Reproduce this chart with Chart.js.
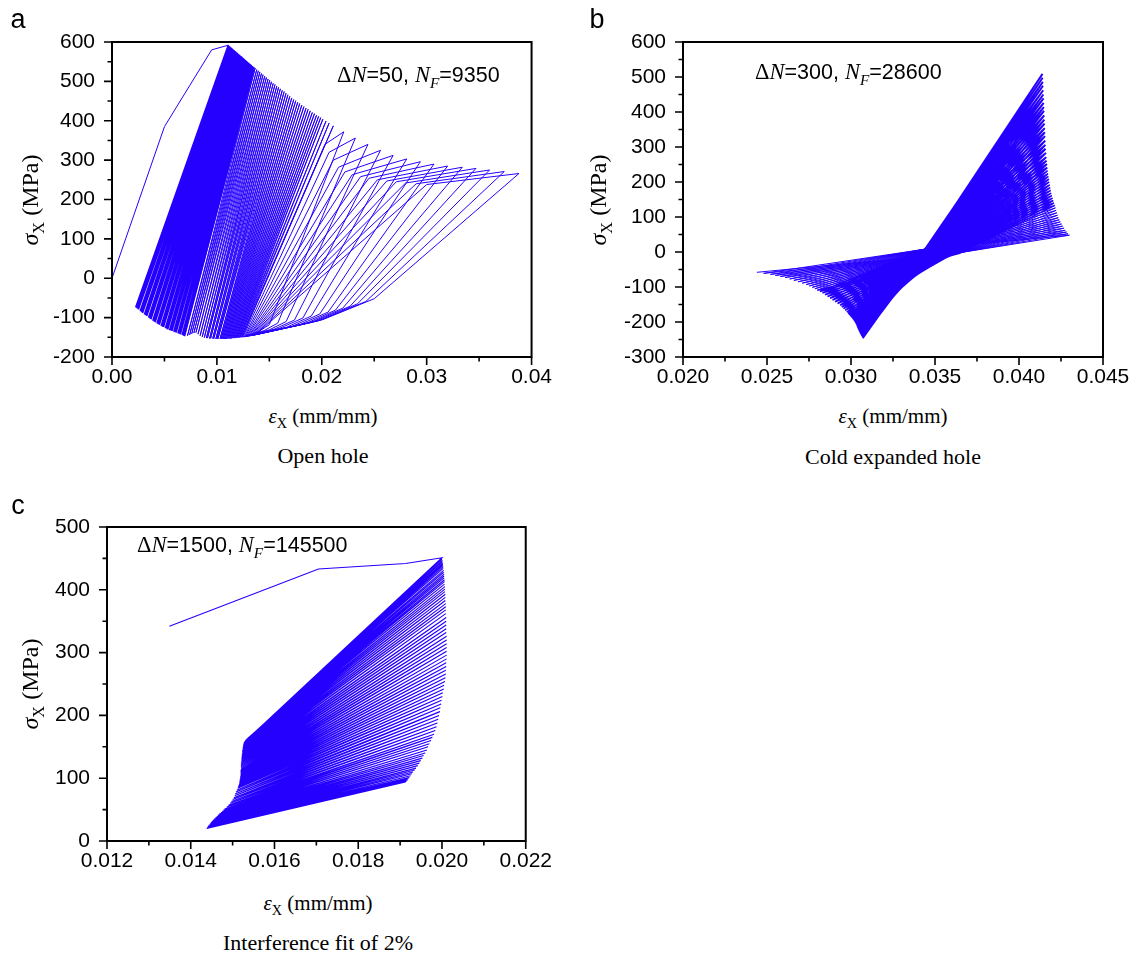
<!DOCTYPE html>
<html>
<head>
<meta charset="utf-8">
<script src="https://cdn.jsdelivr.net/npm/chart.js@4.4.1/dist/chart.umd.min.js"></script>
<style>
  body { margin: 0; background: #fff; width: 1140px; height: 954px; position: relative; overflow: hidden; }
  canvas { position: absolute; }
  .lbl { position: absolute; white-space: nowrap; color: #000; transform: translate(-50%, -50%); }
  .letter { font-family: "Liberation Sans", Arial, sans-serif; font-size: 27px; }
  .serif { font-family: "Liberation Serif", "Times New Roman", serif; font-size: 21px; }
  .cap { font-size: 22px; }
  .ytitle { transform: translate(-50%, -50%) rotate(-90deg); font-size: 24px; }
  .ann { position: absolute; white-space: nowrap; transform: translateY(-50%); font-family: "Liberation Sans", Arial, sans-serif; font-size: 21.5px; color: #000; }
  .ann .s { font-family: "Liberation Serif", "Times New Roman", serif; font-size: 22.5px; }
  sub { font-size: 68%; vertical-align: baseline; position: relative; top: 0.38em; }
</style>
</head>
<body>

<canvas id="chartA" width="560" height="400" style="left:0;top:0"></canvas>
<canvas id="chartB" width="580" height="400" style="left:560px;top:0"></canvas>
<canvas id="chartC" width="560" height="400" style="left:0;top:480px"></canvas>

<!-- panel a labels -->
<div class="lbl letter" style="left:18px;top:19px">a</div>
<div class="lbl serif ytitle" style="left:30px;top:200px"><i>σ</i><sub>X</sub> (MPa)</div>
<div class="lbl serif" style="left:323px;top:416px"><i>ε</i><sub>X</sub> (mm/mm)</div>
<div class="lbl serif cap" style="left:323px;top:456px">Open hole</div>
<div class="ann" style="left:337px;top:75px"><span class="s">Δ<i>N</i></span>=50, <span class="s"><i>N</i><sub><i>F</i></sub></span>=9350</div>

<!-- panel b labels -->
<div class="lbl letter" style="left:597px;top:19px">b</div>
<div class="lbl serif ytitle" style="left:598px;top:200px"><i>σ</i><sub>X</sub> (MPa)</div>
<div class="lbl serif" style="left:893px;top:416px"><i>ε</i><sub>X</sub> (mm/mm)</div>
<div class="lbl serif cap" style="left:893px;top:457px">Cold expanded hole</div>
<div class="ann" style="left:755px;top:72px"><span class="s">Δ<i>N</i></span>=300, <span class="s"><i>N</i><sub><i>F</i></sub></span>=28600</div>

<!-- panel c labels -->
<div class="lbl letter" style="left:18px;top:505px">c</div>
<div class="lbl serif ytitle" style="left:30px;top:684px"><i>σ</i><sub>X</sub> (MPa)</div>
<div class="lbl serif" style="left:318px;top:903px"><i>ε</i><sub>X</sub> (mm/mm)</div>
<div class="lbl serif cap" style="left:318px;top:943px">Interference fit of 2%</div>
<div class="ann" style="left:137px;top:545px"><span class="s">Δ<i>N</i></span>=1500, <span class="s"><i>N</i><sub><i>F</i></sub></span>=145500</div>

<script>
const BLUE = "rgb(38, 0, 255)";

// ---------- panel a : open hole (strain mm/mm, stress MPa) ----------
const aFirstStrain = [0, 0.005, 0.0095];
const aFirstStress = [0, 385, 580];

const aPeakStrain = [
  // early cycles, packed near the first peak
  0.0111, 0.01117, 0.01124, 0.01131, 0.01138, 0.01145, 0.01152, 0.01159, 0.01166, 0.01173,
  0.0118, 0.01187, 0.01194, 0.01201, 0.01208, 0.01215, 0.01222, 0.01229, 0.01236, 0.01243,
  0.0125, 0.01257, 0.01264, 0.01271, 0.01278, 0.01285, 0.01292, 0.01299, 0.01306, 0.01313,
  0.0132, 0.01327, 0.01334, 0.01341, 0.01348, 0.01355,
  // middle cycles
  0.01365, 0.0138, 0.01395, 0.0141, 0.01425, 0.0144, 0.01456, 0.01472, 0.01488, 0.01504,
  0.0152, 0.01537, 0.01554, 0.01571, 0.01588, 0.01605, 0.01623, 0.01641, 0.01659, 0.01677,
  0.01695, 0.01714, 0.01733, 0.01752, 0.01771, 0.0179, 0.0181, 0.0183, 0.0185, 0.0187,
  0.0189, 0.0191, 0.0193, 0.0195, 0.0197, 0.0199, 0.0201, 0.0204, 0.0207, 0.0211,
  // last, wide loops
  0.0221, 0.0232, 0.0244, 0.0256, 0.0268, 0.0281, 0.0294, 0.0307, 0.0320, 0.0334,
  0.0347, 0.0360, 0.0374, 0.0388
];
const aPeakStress = [
  592, 590, 589, 587, 586, 584, 582, 581, 579, 578,
  576, 574, 573, 571, 569, 568, 566, 565, 563, 561,
  560, 558, 556, 555, 553, 552, 550, 548, 547, 545,
  544, 542, 540, 539, 537, 536,
  534, 530, 527, 524, 520, 517, 513, 510, 506, 503,
  499, 495, 492, 488, 485, 481, 477, 474, 470, 466,
  462, 458, 454, 451, 447, 444, 440, 436, 432, 429,
  425, 421, 418, 414, 411, 408, 404, 399, 394, 387,
  372, 356, 340, 325, 312, 303, 296, 290, 285, 282,
  279, 275, 271, 266
];
const aValleyStrain = [
  0.00227, 0.0024, 0.0025, 0.0027, 0.0028, 0.0029, 0.0031, 0.0032, 0.0033, 0.0035,
  0.0036, 0.0037, 0.0039, 0.0040, 0.0041, 0.0043, 0.0044, 0.0045, 0.0047, 0.0048,
  0.0049, 0.0051, 0.0052, 0.0053, 0.0055, 0.0056, 0.0057, 0.0059, 0.0060, 0.0061,
  0.0063, 0.0064, 0.0065, 0.0067, 0.0068, 0.0069,
  0.0072, 0.0074, 0.0076, 0.0078, 0.0080, 0.0082, 0.0084, 0.0086, 0.0088, 0.0090,
  0.0091, 0.0093, 0.0094, 0.0096, 0.0097, 0.0099, 0.0100, 0.0101, 0.0103, 0.0104,
  0.0105, 0.0106, 0.0107, 0.0108, 0.0109, 0.0110, 0.0111, 0.0112, 0.0113, 0.0114,
  0.0115, 0.0116, 0.0117, 0.0118, 0.0119, 0.0120, 0.0121, 0.0122, 0.0123, 0.0124,
  0.0125, 0.0126, 0.0127, 0.0128, 0.0129, 0.0130, 0.0131, 0.0132, 0.0133, 0.0134,
  0.0135, 0.0136, 0.0137, 0.0138
];
const aValleyStress = [
  -74, -77, -79, -83, -86, -88, -92, -94, -96, -100,
  -102, -104, -108, -110, -112, -115, -117, -118, -121, -123,
  -124, -127, -128, -130, -132, -133, -134, -136, -137, -138,
  -140, -141, -142, -144, -146, -147,
  -146, -144, -141, -139, -138, -142, -146, -149, -151, -152,
  -152, -153, -153, -153, -154, -154, -154, -154, -154, -154,
  -154, -154, -154, -154, -154, -153, -153, -153, -153, -153,
  -152, -152, -152, -152, -151, -151, -151, -150, -150, -150,
  -149, -149, -148, -148, -147, -147, -146, -146, -145, -145,
  -144, -144, -143, -143
];
// knees of the last 14 (wide) loops
const aLoadKneeStrain = [0.0203, 0.0207, 0.0211, 0.0216, 0.0222, 0.0229, 0.0237, 0.0245, 0.0253, 0.0262, 0.0271, 0.0280, 0.0290, 0.0300];
const aLoadKneeStress = [340, 320, 300, 282, 270, 263, 258, 254, 250, 247, 245, 242, 240, 238];
const aUnloadKneeStrain = [0.0150, 0.0158, 0.0166, 0.0174, 0.0182, 0.0190, 0.0198, 0.0206, 0.0213, 0.0220, 0.0227, 0.0234, 0.0242, 0.0250];
const aUnloadKneeStress = [-118, -114, -110, -106, -101, -96, -91, -86, -81, -76, -71, -65, -59, -52];
const aBendStrain = [0.0140, 0.0145, 0.0150, 0.0155, 0.0160, 0.0166, 0.0172, 0.0178, 0.0184, 0.0189, 0.0193, 0.0197, 0.0199, 0.0201];
const aBendStress = [-135, -133, -131, -129, -127, -125, -122, -119, -116, -113, -110, -108, -106, -105];
const aDenseCycles = 36; // cycles drawn in the solid left band

// ---------- panel b : cold expanded hole ----------
const bPeakStrain = [
  0.04140, 0.04141, 0.04142, 0.04143, 0.04144, 0.04145, 0.04146, 0.04147, 0.04148, 0.04149,
  0.04150, 0.04151, 0.04152, 0.04153, 0.04154, 0.04155, 0.04156, 0.04157, 0.04158, 0.04160,
  0.04162, 0.04164, 0.04166, 0.04168,
  0.04170, 0.04173, 0.04175, 0.04178, 0.04180, 0.04183, 0.04186, 0.04189, 0.04192, 0.04196,
  0.04200, 0.04204, 0.04208, 0.04213,
  0.04217, 0.04221, 0.04225, 0.04229, 0.04234, 0.04240, 0.04246, 0.04253, 0.04260, 0.04267,
  0.04275, 0.04283, 0.04292, 0.04300
];
const bPeakStress = [
  509, 498, 486, 475, 462, 450, 439, 426, 414, 403,
  390, 378, 367, 354, 342, 331, 318, 306, 295, 283,
  271, 261, 251, 241,
  232, 224, 216, 208, 200, 192, 184, 176, 168, 161,
  154, 147, 140, 133,
  126, 119, 112, 105, 98, 92, 86, 80, 74, 68,
  62, 57, 52, 48
];
const bValleyStrain = [
  0.03070, 0.03069, 0.03068, 0.03066, 0.03063, 0.03061, 0.03059, 0.03056, 0.03053, 0.03050,
  0.03047, 0.03044, 0.03041, 0.03038, 0.03035, 0.03032, 0.03027, 0.03022, 0.03017, 0.03011,
  0.03004, 0.02997, 0.02990, 0.02983,
  0.02975, 0.02965, 0.02955, 0.02945, 0.02935, 0.02920, 0.02905, 0.02890, 0.02875, 0.02860,
  0.02845, 0.02830, 0.02815, 0.02800,
  0.02785, 0.02770, 0.02752, 0.02733, 0.02710, 0.02685, 0.02660, 0.02635, 0.02608, 0.02580,
  0.02550, 0.02520, 0.02480, 0.02440
];
const bValleyStress = [
  -246, -245, -244, -242, -240, -238, -236, -234, -231, -228,
  -225, -222, -219, -216, -212, -208, -204, -200, -196, -192,
  -188, -184, -180, -176,
  -172, -167, -162, -157, -152, -147, -142, -137, -132, -127,
  -122, -117, -113, -109,
  -105, -101, -97, -93, -89, -85, -81, -77, -73, -70,
  -67, -64, -61, -58
];
// loading branches all pass the waist near one point
const bLoadCross = [0.0344, 8];
// unloading branches cross the waist further right as the cycles go on
const bUnloadCrossStrain = [
  0.03445, 0.03452, 0.03459, 0.03466, 0.03473, 0.03480, 0.03487, 0.03494, 0.03501, 0.03508,
  0.03516, 0.03524, 0.03532, 0.03540, 0.03548, 0.03556, 0.03564, 0.03572, 0.03580, 0.03588,
  0.03596, 0.03604, 0.03612, 0.03618,
  0.03621, 0.03623, 0.03625, 0.03627, 0.03629, 0.03631, 0.03633, 0.03635, 0.03637, 0.03639,
  0.03641, 0.03643, 0.03645, 0.03647,
  0.03628, 0.03628, 0.03629, 0.03629, 0.03630, 0.03630, 0.03631, 0.03631, 0.03632, 0.03632,
  0.03633, 0.03633, 0.03634, 0.03634
];
const bUnloadCrossStress = [
  7, 7, 6, 6, 6, 5, 5, 5, 4, 4,
  4, 3, 3, 3, 2, 2, 2, 1, 1, 1,
  0, 0, -1, -1,
  -1, -1, -2, -2, -2, -2, -3, -3, -3, -3,
  -4, -4, -4, -4,
  -2, -2, -2, -2, -3, -3, -3, -3, -3, -3,
  -3, -3, -3, -3
];
const bBandCycles = 24;  // early cycles forming the steep solid band
const bMidCycles = 38;   // next cycles, the dark tongue at the right edge

// ---------- panel c : interference fit of 2% ----------
const cFirstStrain = [0.01349, 0.01705, 0.01913];
const cFirstStress = [342, 433, 442];

const cPeakStrain = [
  0.02000, 0.02000, 0.02001, 0.02001, 0.02002, 0.02002, 0.02002, 0.02003, 0.02003, 0.02004,
  0.02004, 0.02005, 0.02005, 0.02005, 0.02006, 0.02006, 0.02006, 0.02007, 0.02007, 0.02007,
  0.02008, 0.02008, 0.02008, 0.02009, 0.02009, 0.02009, 0.02009, 0.02010, 0.02010, 0.02010,
  0.02010, 0.02010, 0.02011, 0.02011, 0.02011, 0.02011, 0.02011, 0.02011, 0.02011, 0.02010,
  0.02010, 0.02009, 0.02009, 0.02008, 0.02007, 0.02005, 0.02004, 0.02002, 0.02001, 0.01999,
  0.01998, 0.01996, 0.01995, 0.01993, 0.01991, 0.01989, 0.01987, 0.01984, 0.01981, 0.01977,
  0.01974, 0.01970, 0.01967, 0.01964, 0.01960, 0.01956, 0.01953, 0.01949, 0.01946, 0.01942,
  0.01938, 0.01935, 0.01931, 0.01928, 0.01925, 0.01922, 0.01920, 0.01918, 0.01915, 0.01913
];
const cPeakStress = [
  451, 449, 447, 445, 443, 441, 439, 437, 434, 431,
  428, 425, 422, 419, 416, 413, 409, 405, 401, 397,
  393, 388, 383, 378, 373, 368, 362, 356, 350, 344,
  338, 332, 326, 320, 314, 308, 302, 296, 290, 284,
  278, 272, 266, 260, 254, 248, 242, 236, 230, 224,
  218, 212, 206, 200, 194, 188, 182, 176, 170, 165,
  160, 155, 150, 145, 140, 136, 132, 128, 124, 120,
  116, 113, 110, 107, 104, 101, 99, 97, 95, 94
];
const cValleyStrain = [
  0.01540, 0.01540, 0.01538, 0.01538, 0.01536, 0.01536, 0.01534, 0.01533, 0.01531, 0.01530,
  0.01529, 0.01528, 0.01527, 0.01526, 0.01525, 0.01525, 0.01524, 0.01524, 0.01523, 0.01523,
  0.01523, 0.01522, 0.01522, 0.01522, 0.01521, 0.01521, 0.01521, 0.01521, 0.01520, 0.01520,
  0.01520, 0.01520, 0.01520, 0.01520, 0.01519, 0.01519, 0.01519, 0.01519, 0.01519, 0.01518,
  0.01518, 0.01517, 0.01517, 0.01516, 0.01516, 0.01515, 0.01514, 0.01513, 0.01512, 0.01510,
  0.01508, 0.01506, 0.01505, 0.01503, 0.01500, 0.01497, 0.01494, 0.01490, 0.01486, 0.01481,
  0.01478, 0.01475, 0.01472, 0.01468, 0.01465, 0.01462, 0.01459, 0.01456, 0.01453, 0.01450,
  0.01448, 0.01447, 0.01446, 0.01445, 0.01443, 0.01442, 0.01441, 0.01440, 0.01439, 0.01438
];
const cValleyStress = [
  165, 165, 164, 164, 163, 163, 162, 161, 160, 159,
  158, 157, 156, 154, 152, 150, 148, 146, 144, 142,
  140, 138, 136, 134, 132, 130, 128, 126, 124, 122,
  120, 118, 116, 114, 112, 110, 108, 106, 104, 102,
  100, 98, 96, 94, 92, 90, 88, 86, 84, 81,
  78, 75, 72, 69, 66, 63, 60, 57, 54, 51,
  49, 47, 45, 43, 41, 39, 37, 35, 33, 31,
  29, 28, 27, 26, 25, 24, 23, 22, 21, 20
];

// ---------- build the load paths ----------
// panel a: first loading (thin), dense early loops (heavier so they merge), the rest (thin)
const aFirst = aFirstStrain.map((s, i) => ({ x: s, y: aFirstStress[i] }));
aFirst.push({ x: aPeakStrain[0], y: aPeakStress[0] });
const aDense = [];
const aRest = [];
const aWideStart = aPeakStrain.length - aLoadKneeStrain.length;
for (let i = 0; i < aPeakStrain.length; i++) {
  const seg = i < aDenseCycles ? aDense : aRest;
  if (i === aDenseCycles) seg.push({ x: aValleyStrain[i - 1], y: aValleyStress[i - 1] });
  const k = i - aWideStart;
  if (k >= 0) seg.push({ x: aLoadKneeStrain[k], y: aLoadKneeStress[k] });
  seg.push({ x: aPeakStrain[i], y: aPeakStress[i] });
  if (k >= 0) {
    seg.push({ x: aUnloadKneeStrain[k], y: aUnloadKneeStress[k] });
    seg.push({ x: aBendStrain[k], y: aBendStress[k] });
  }
  seg.push({ x: aValleyStrain[i], y: aValleyStress[i] });
}

// panel b: steep band, the tongue, then the flat late loops
const bBand = [];
const bMid = [];
const bLate = [];
for (let i = 0; i < bPeakStrain.length; i++) {
  const seg = i < bBandCycles ? bBand : (i < bMidCycles ? bMid : bLate);
  if (i === bBandCycles || i === bMidCycles) seg.push({ x: bValleyStrain[i - 1], y: bValleyStress[i - 1] });
  if (i > 0) seg.push({ x: bLoadCross[0], y: bLoadCross[1] });
  seg.push({ x: bPeakStrain[i], y: bPeakStress[i] });
  seg.push({ x: bUnloadCrossStrain[i], y: bUnloadCrossStress[i] });
  seg.push({ x: bValleyStrain[i], y: bValleyStress[i] });
}

const cPath = [];
cFirstStrain.forEach((s, i) => cPath.push({ x: s, y: cFirstStress[i] }));
for (let i = 0; i < cPeakStrain.length; i++) {
  cPath.push({ x: cPeakStrain[i], y: cPeakStress[i] });
  cPath.push({ x: cValleyStrain[i], y: cValleyStress[i] });
}

// box around the plot + outward major/minor ticks on left and bottom
const axisFrame = {
  id: "axisFrame",
  afterDraw(chart) {
    const { ctx, chartArea: ca, scales } = chart;
    const xs = scales.x, ys = scales.y;
    ctx.save();
    ctx.strokeStyle = "#000";
    ctx.lineWidth = 1.6;
    ctx.beginPath();
    const xt = xs.ticks.map(t => t.value);
    xt.forEach((v, k) => {
      const px = xs.getPixelForValue(v);
      ctx.moveTo(px, ca.bottom);
      ctx.lineTo(px, ca.bottom + 8);
      if (k < xt.length - 1) {
        const pm = xs.getPixelForValue((v + xt[k + 1]) / 2);
        ctx.moveTo(pm, ca.bottom);
        ctx.lineTo(pm, ca.bottom + 4.5);
      }
    });
    const yt = ys.ticks.map(t => t.value);
    yt.forEach((v, k) => {
      const py = ys.getPixelForValue(v);
      ctx.moveTo(ca.left, py);
      ctx.lineTo(ca.left - 8, py);
      if (k < yt.length - 1) {
        const pm = ys.getPixelForValue((v + yt[k + 1]) / 2);
        ctx.moveTo(ca.left, pm);
        ctx.lineTo(ca.left - 4.5, pm);
      }
    });
    ctx.stroke();
    ctx.lineWidth = 2;
    ctx.strokeRect(ca.left, ca.top, ca.right - ca.left, ca.bottom - ca.top);
    ctx.restore();
  }
};

Chart.defaults.font.family = '"Liberation Sans", Arial, sans-serif';
Chart.defaults.font.size = 21;
Chart.defaults.color = "#000";

function line(points, width) {
  return { data: points, showLine: true, borderColor: BLUE, borderWidth: width, pointRadius: 0, tension: 0 };
}

function drawPanel(id, datasets, xr, yr, box) {
  return new Chart(document.getElementById(id), {
    type: "scatter",
    data: { datasets: datasets },
    options: {
      responsive: false,
      animation: false,
      events: [],
      layout: { padding: { left: 0, right: box.right, top: box.top, bottom: 0 } },
      plugins: { legend: { display: false }, tooltip: { enabled: false } },
      scales: {
        x: {
          type: "linear",
          min: xr[0], max: xr[1],
          ticks: { stepSize: xr[2], padding: 8, maxRotation: 0, autoSkip: false,
                   callback: v => v.toFixed(xr[3]) },
          grid: { display: false, drawTicks: false },
          border: { display: false },
          afterFit(s) { s.height = box.xh; }
        },
        y: {
          type: "linear",
          min: yr[0], max: yr[1],
          ticks: { stepSize: yr[2], padding: 17, autoSkip: false,
                   callback: v => String(Math.round(v)) },
          grid: { display: false, drawTicks: false },
          border: { display: false },
          afterFit(s) { s.width = box.yw; }
        }
      }
    },
    plugins: [axisFrame]
  });
}

drawPanel("chartA", [line(aFirst, 1), line(aDense, 1.8), line(aRest, 1)],
  [0, 0.04, 0.01, 2], [-200, 600, 100], { right: 25, top: 42, xh: 43, yw: 112 });
drawPanel("chartB", [line(bBand, 1.9), line(bMid, 1.5), line(bLate, 1)],
  [0.02, 0.045, 0.005, 3], [-300, 600, 100], { right: 37, top: 42, xh: 43, yw: 123 });
drawPanel("chartC", [line(cPath, 1.1)],
  [0.012, 0.022, 0.002, 3], [0, 500, 100], { right: 30, top: 47, xh: 39, yw: 107 });
</script>
</body>
</html>
